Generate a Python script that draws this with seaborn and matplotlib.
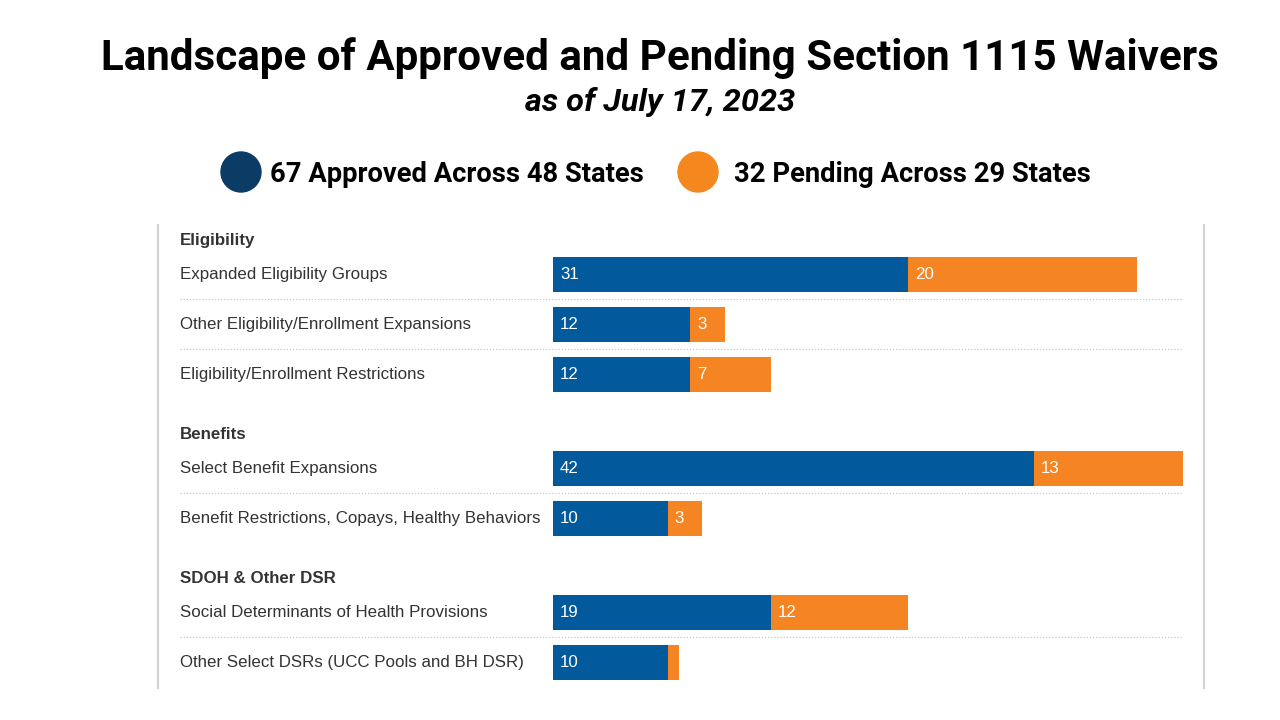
import pandas as pd
import seaborn as sns
import matplotlib.pyplot as plt
from matplotlib.patches import Ellipse

# data
groups = ["Eligibility", "Benefits", "SDOH & Other DSR"]
labels = [
    "Expanded Eligibility Groups",
    "Other Eligibility/Enrollment Expansions",
    "Eligibility/Enrollment Restrictions",
    "Select Benefit Expansions",
    "Benefit Restrictions, Copays, Healthy Behaviors",
    "Social Determinants of Health Provisions",
    "Other Select DSRs (UCC Pools and BH DSR)",
]
group_of = [0, 0, 0, 1, 1, 2, 2]
approved = [31, 12, 12, 42, 10, 19, 10]
pending = [20, 3, 7, 13, 3, 12, 1]
legend_labels = ["67 Approved Across 48 States", "32 Pending Across 29 States"]

BLUE = "#02599C"
ORANGE = "#F58522"
LEG_BLUE = "#0B3C66"
LEG_ORANGE = "#F5871F"
TXT = "#333333"

# layout, in pixels of the 1280x720 picture
W, H = 1280, 720
AX_L, AX_R, AX_T, AX_B = 158, 1204, 225, 688
BAR0, BARMAX, MAXVAL = 553, 1183, 55
ROW0, ROW_H, GROUP_GAP = 274, 50, 0.88

k = (BARMAX - BAR0) / MAXVAL

df = pd.DataFrame({"label": labels, "group": group_of,
                   "approved": approved, "pending": pending})
df["total"] = df["approved"] + df["pending"]
df["pos"] = df.index + df["group"] * GROUP_GAP

sns.set_style("white")
fig = plt.figure(figsize=(W / 100, H / 100), dpi=100)
ax = fig.add_axes([AX_L / W, 1 - AX_B / H, (AX_R - AX_L) / W, (AX_B - AX_T) / H])

sns.barplot(data=df, x="total", y="pos", orient="y", native_scale=True,
            color=ORANGE, saturation=1, errorbar=None, width=0.7,
            linewidth=0, ax=ax)
sns.barplot(data=df, x="approved", y="pos", orient="y", native_scale=True,
            color=BLUE, saturation=1, errorbar=None, width=0.7,
            linewidth=0, ax=ax)

ax.set_xlim((AX_L - BAR0) / k, (AX_R - BAR0) / k)
ax.set_ylim((AX_B - ROW0) / ROW_H, (AX_T - ROW0) / ROW_H)
ax.set_xlabel("")
ax.set_ylabel("")
ax.set_xticks([])
ax.set_yticks([])
for s in ["top", "bottom"]:
    ax.spines[s].set_visible(False)
for s in ["left", "right"]:
    ax.spines[s].set_color("#d4d4d4")
    ax.spines[s].set_linewidth(1.6)

lab_x = (180 - BAR0) / k
font = "Liberation Sans"
fs = 12.2
for i, r in df.iterrows():
    ax.text(lab_x, r["pos"], r["label"], va="center", ha="left",
            fontsize=fs, color=TXT, family=font)
    ax.annotate(str(r["approved"]), (0, r["pos"]), xytext=(5, 0),
                textcoords="offset points", va="center", ha="left",
                fontsize=fs, color="white", family=font)
    if r["pending"] * k > 20:
        ax.annotate(str(r["pending"]), (r["approved"], r["pos"]), xytext=(5, 0),
                    textcoords="offset points", va="center", ha="left",
                    fontsize=fs, color="white", family=font)
    # dotted separator to the next row of the same group
    if i + 1 < len(df) and df.loc[i + 1, "group"] == r["group"]:
        ax.plot([lab_x, MAXVAL], [r["pos"] + 0.5] * 2, color="#c8c8c8",
                lw=0.9, ls=(0, (1, 1.5)))

for g, name in enumerate(groups):
    first = df[df["group"] == g]["pos"].min()
    ax.text(lab_x, first - 0.68, name, va="center", ha="left",
            fontsize=fs, fontweight="bold", color=TXT, family=font)

# titles
fig.text(660 / W, 1 - 58 / H, "Landscape of Approved and Pending Section 1115 Waivers",
         ha="center", va="center", fontsize=30.3, fontweight="bold",
         family="Roboto", color="black")
fig.text(660 / W, 1 - 102 / H, "as of July 17, 2023", ha="center", va="center",
         fontsize=23.4, fontweight="bold", style="italic", family="Roboto",
         color="black")

# legend
for cx, tx, col, txt in [(241, 270, LEG_BLUE, legend_labels[0]),
                         (698, 734, LEG_ORANGE, legend_labels[1])]:
    fig.add_artist(Ellipse((cx / W, 1 - 172 / H), 40 / W, 40 / H,
                           transform=fig.transFigure, color=col))
    fig.text(tx / W, 1 - 174 / H, txt, ha="left", va="center", fontsize=19.7,
             fontweight="bold", family="Roboto", color="black")

fig.savefig("out.png", dpi=100, facecolor="white")
